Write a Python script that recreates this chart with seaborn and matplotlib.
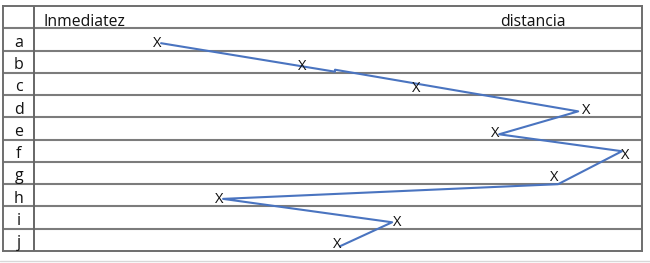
import numpy as np
import pandas as pd
import matplotlib
matplotlib.use("Agg")
import matplotlib.pyplot as plt
import seaborn as sns
from matplotlib.lines import Line2D

# filas de la tabla y posicion de cada "X" (0 = inmediatez, 100 = distancia)
filas = ["a", "b", "c", "d", "e", "f", "g", "h", "i", "j"]
marcas = [20.2, 44.1, 62.8, 90.8, 75.8, 97.2, 85.5, 30.4, 59.7, 49.8]

# trazo a mano que une las marcas (posicion, fila)
trazo_x = [20.9, 49.5, 49.5, 89.5, 76.5, 96.7, 86.2, 31.1, 58.9, 50.3]
trazo_y = [0.17, 1.45, 1.36, 3.23, 4.26, 5.02, 6.50, 7.16, 8.21, 9.29]

encabezado_izq = "Inmediatez"
encabezado_der = "distancia"

sns.set_style("white")
plt.rcParams["font.family"] = ["Open Sans", "DejaVu Sans"]

W, H = 650, 263
fig = plt.figure(figsize=(W / 100, H / 100), dpi=100)
ax = fig.add_axes([3 / W, 1 - 251 / H, 639 / W, 245 / H])

ax.set_xlim(-5.1, 100)
ax.set_ylim(len(filas) - 0.5, -1.5)
ax.set_xticks([])
ax.set_yticks([])
for s in ax.spines.values():
    s.set_color("#6e6e6e")
    s.set_linewidth(1.4)

# lineas de la tabla
ax.hlines(np.arange(-0.5, len(filas) - 0.5), -5.1, 100, color="#7c7c7c", lw=1.5)
ax.axvline(0, color="#666666", lw=1.4)

df = pd.DataFrame({"pos": trazo_x, "fila": trazo_y, "orden": range(len(trazo_x))})
sns.lineplot(data=df, x="pos", y="fila", sort=False, estimator=None,
             color="#4a74c0", lw=1.5, ax=ax)

for i, (f, m) in enumerate(zip(filas, marcas)):
    ax.text(-2.5, i + 0.33, f, ha="center", va="baseline", fontsize=11.5, color="#111111")
    ax.text(m, i + 0.36, "X", ha="center", va="baseline", fontsize=10.5, color="#111111")

ax.text(1.5, -0.62, encabezado_izq, ha="left", va="baseline", fontsize=11.3, color="#111111")
ax.text(76.6, -0.62, encabezado_der, ha="left", va="baseline", fontsize=11.3, color="#111111")

ax.set_xlabel("")
ax.set_ylabel("")

fig.add_artist(Line2D([0, 1], [1 - 260.5 / H, 1 - 260.5 / H], color="#d8d8d8", lw=1))

fig.savefig("out.png", dpi=100)
